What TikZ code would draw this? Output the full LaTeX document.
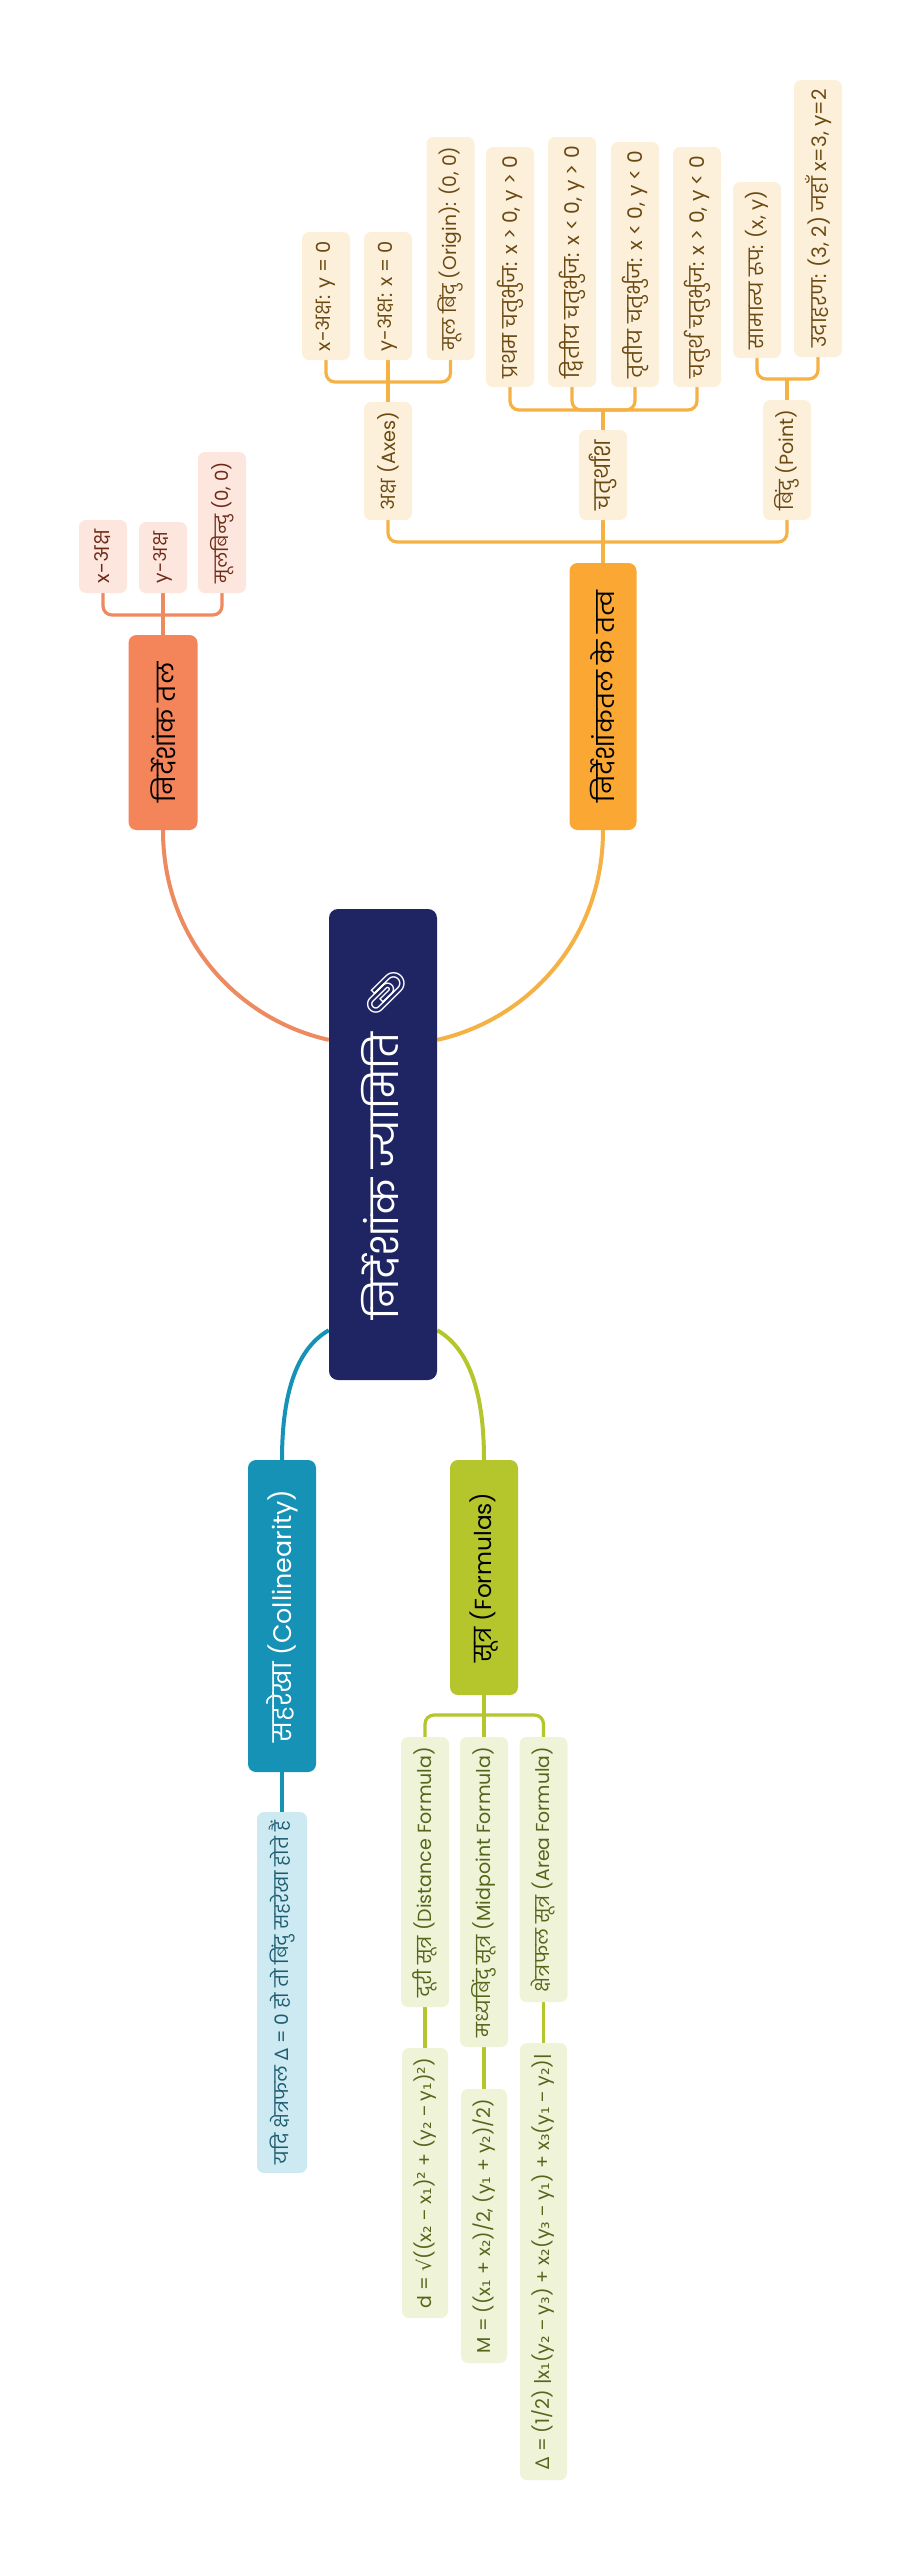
\documentclass[tikz,border=0pt]{standalone}
\usepackage{graphicx}
\usepackage{fontspec}
\setmainfont{Poppins}[Script=Devanagari]
\newfontfamily\emoji{Noto Emoji}
\newfontfamily\djv{DejaVu Sans}
\newfontfamily\lat{Noto Sans}
\usetikzlibrary{calc,backgrounds}

\definecolor{navy}{HTML}{1F2563}
\definecolor{coral}{HTML}{F4845A}
\definecolor{coralline}{HTML}{EE8A60}
\definecolor{coralleaf}{HTML}{FDE6DD}
\definecolor{coraltext}{HTML}{6E2A17}
\definecolor{amber}{HTML}{FAA833}
\definecolor{amberline}{HTML}{F5B144}
\definecolor{amberleaf}{HTML}{FDF0DB}
\definecolor{ambertext}{HTML}{6B4A12}
\definecolor{tealc}{HTML}{1592B6}
\definecolor{tealleaf}{HTML}{CDEAF2}
\definecolor{tealtext}{HTML}{1D5C70}
\definecolor{olivec}{HTML}{B4C62C}
\definecolor{oliveleaf}{HTML}{EFF4D8}
\definecolor{olivetext}{HTML}{55651A}

\newcommand{\sbs}[1]{{\djv #1}}
\newcommand{\gk}[1]{{\lat #1}}
\newcommand{\fit}[2]{\resizebox{#1pt}{!}{#2}}

\begin{document}
\begin{tikzpicture}[x=1pt,y=-1pt,
  box/.style={rotate=90, rounded corners=7pt, inner sep=0pt, align=center},
  sz/.style 2 args={minimum width=#1pt, minimum height=#2pt},
  rootbox/.style={box, fill=navy, text=white, rounded corners=9pt, font=\fontsize{38}{42}\selectfont},
  mainbox/.style={box, fill=#1, rounded corners=8pt, font=\fontsize{25}{28}\selectfont},
  leafbox/.style={box, fill=#1, font=\fontsize{17}{20}\selectfont},
  fbox/.style={box, fill=#1, font=\fontsize{16}{19}\selectfont},
  conn/.style={draw=#1, line width=4pt},
  brk/.style={draw=#1, line width=3.2pt, rounded corners=9pt},
]
\begin{scope}[on background layer]
\fill[white] (0,0) rectangle (922,2560);
\end{scope}
\useasboundingbox (0,0) rectangle (922,2560);

% ---------- root ----------
\node[rootbox, sz={471}{108}] (root) at (383,1144.5) {\fit{350}{निर्देशांक ज्यामिति\hspace{16pt}{\emoji 📎}}};

% ---------- निर्देशांक तल ----------
\node[mainbox=coral, sz={195}{69}] (ntal) at (163,732.5) {\fit{140}{निर्देशांक तल}};
\node[leafbox=coralleaf, text=coraltext, sz={73}{48}] (l1) at (103,556.5) {\fit{53}{x-अक्ष}};
\node[leafbox=coralleaf, text=coraltext, sz={71}{48}] (l2) at (163,557.5) {\fit{51}{y-अक्ष}};
\node[leafbox=coralleaf, text=coraltext, sz={141}{48}] (l3) at (222,522.5) {\fit{121}{मूलबिन्दु (0, 0)}};
\coordinate (j1) at (163,615);

% ---------- निर्देशांकतल के तत्व ----------
\node[mainbox=amber, sz={267}{67}] (tatva) at (603,696.5) {\fit{211}{निर्देशांकतल के तत्व}};
\node[leafbox=amberleaf, text=ambertext, sz={118}{48}] (axes) at (388,461) {\fit{98}{अक्ष (Axes)}};
\node[leafbox=amberleaf, text=ambertext, sz={90}{48}] (quad) at (603,475) {\fit{70}{चतुर्थांश}};
\node[leafbox=amberleaf, text=ambertext, sz={120}{48}] (point) at (787,460) {\fit{100}{बिंदु (Point)}};
\coordinate (j2) at (603,542);

\node[leafbox=amberleaf, text=ambertext, sz={128}{48}] (a1) at (326,296) {\fit{110}{x-अक्ष: y = 0}};
\node[leafbox=amberleaf, text=ambertext, sz={128}{48}] (a2) at (388,296) {\fit{110}{y-अक्ष: x = 0}};
\node[leafbox=amberleaf, text=ambertext, sz={223}{48}] (a3) at (450.5,248.5) {\fit{204}{मूल बिंदु (Origin): (0, 0)}};
\coordinate (j3) at (388,382);

\node[leafbox=amberleaf, text=ambertext, sz={240}{48}] (q1) at (510,267) {\fit{222}{प्रथम चतुर्भुज: x > 0, y > 0}};
\node[leafbox=amberleaf, text=ambertext, sz={250}{48}] (q2) at (572,262) {\fit{232}{द्वितीय चतुर्भुज: x < 0, y > 0}};
\node[leafbox=amberleaf, text=ambertext, sz={245}{48}] (q3) at (635,264.5) {\fit{227}{तृतीय चतुर्भुज: x < 0, y < 0}};
\node[leafbox=amberleaf, text=ambertext, sz={240}{48}] (q4) at (697,267) {\fit{222}{चतुर्थ चतुर्भुज: x > 0, y < 0}};
\coordinate (j4) at (603,410);

\node[leafbox=amberleaf, text=ambertext, sz={176}{48}] (p1) at (757,270) {\fit{158}{सामान्य रूप: (x, y)}};
\node[leafbox=amberleaf, text=ambertext, sz={277}{48}] (p2) at (818,218.5) {\fit{258}{उदाहरण: (3, 2) जहाँ x=3, y=2}};
\coordinate (j5) at (787,379);

% ---------- सहरेखा ----------
\node[mainbox=tealc, text=white, sz={312}{68}] (coll) at (282,1616) {\fit{253}{सहरेखा (Collinearity)}};
\node[leafbox=tealleaf, text=tealtext, sz={361}{50}] (cl) at (282,1992.5) {\fit{343}{यदि क्षेत्रफल \gk{Δ} = 0 हो तो बिंदु सहरेखा होते हैं}};

% ---------- सूत्र ----------
\node[mainbox=olivec, sz={235}{68}] (form) at (484,1577.5) {\fit{170}{सूत्र (Formulas)}};
\coordinate (j6) at (484,1715);
\node[leafbox=oliveleaf, text=olivetext, sz={270}{48}] (f1) at (425,1872) {\fit{250}{दूरी सूत्र (Distance Formula)}};
\node[leafbox=oliveleaf, text=olivetext, sz={310}{48}] (f2) at (484,1892) {\fit{290}{मध्यबिंदु सूत्र (Midpoint Formula)}};
\node[leafbox=oliveleaf, text=olivetext, sz={265}{48}] (f3) at (543.5,1869.5) {\fit{245}{क्षेत्रफल सूत्र (Area Formula)}};
\node[fbox=oliveleaf, text=olivetext, sz={270}{46}] (g1) at (425,2183) {\fit{250}{d = \sbs{√}((x\sbs{₂} \gk{−} x\sbs{₁})\sbs{²} + (y\sbs{₂} \gk{−} y\sbs{₁})\sbs{²})}};
\node[fbox=oliveleaf, text=olivetext, sz={274}{46}] (g2) at (484,2226) {\fit{254}{M = ((x\sbs{₁} + x\sbs{₂})/2, (y\sbs{₁} + y\sbs{₂})/2)}};
\node[fbox=oliveleaf, text=olivetext, sz={437}{47}] (g3) at (543.5,2261.5) {\fit{415}{\gk{Δ} = (1/2) |x\sbs{₁}(y\sbs{₂} \gk{−} y\sbs{₃}) + x\sbs{₂}(y\sbs{₃} \gk{−} y\sbs{₁}) + x\sbs{₃}(y\sbs{₁} \gk{−} y\sbs{₂})|}};

% ---------- connectors ----------
\begin{scope}[on background layer]
\draw[conn=coralline] ($(root.north east)!0.278!(root.north west)$) .. controls +(-90,-20) and +(0,110) .. (ntal.west);
\draw[conn=amberline] ($(root.south east)!0.278!(root.south west)$) .. controls +(90,-20) and +(0,110) .. (tatva.west);
\draw[conn=tealc] ($(root.north east)!0.894!(root.north west)$) .. controls +(-35,20) and +(0,-60) .. (coll.east);
\draw[conn=olivec] ($(root.south east)!0.894!(root.south west)$) .. controls +(35,20) and +(0,-60) .. (form.east);

\draw[brk=coralline] (ntal.east) -- (j1);
\draw[brk=coralline] (l1.west) |- (j1);
\draw[brk=coralline] (l2.west) -- (j1);
\draw[brk=coralline] (l3.west) |- (j1);

\draw[brk=amberline] (tatva.east) -- (j2);
\draw[brk=amberline] (axes.west) |- (j2);
\draw[brk=amberline] (quad.west) -- (j2);
\draw[brk=amberline] (point.west) |- (j2);

\draw[brk=amberline] (axes.east) -- (j3);
\draw[brk=amberline] (a1.west) |- (j3);
\draw[brk=amberline] (a2.west) -- (j3);
\draw[brk=amberline] (a3.west) |- (j3);

\draw[brk=amberline] (quad.east) -- (j4);
\draw[brk=amberline] (q1.west) |- (j4);
\draw[brk=amberline] (q2.west) |- (j4);
\draw[brk=amberline] (q3.west) |- (j4);
\draw[brk=amberline] (q4.west) |- (j4);

\draw[brk=amberline] (point.east) -- (j5);
\draw[brk=amberline] (p1.west) |- (j5);
\draw[brk=amberline] (p2.west) |- (j5);

\draw[brk=tealc] (coll.west) -- (cl.east);

\draw[brk=olivec] (form.west) -- (j6);
\draw[brk=olivec] (f1.east) |- (j6);
\draw[brk=olivec] (f2.east) -- (j6);
\draw[brk=olivec] (f3.east) |- (j6);
\draw[brk=olivec] (f1.west) -- (g1.east);
\draw[brk=olivec] (f2.west) -- (g2.east);
\draw[brk=olivec] (f3.west) -- (g3.east);
\end{scope}
\end{tikzpicture}
\end{document}
